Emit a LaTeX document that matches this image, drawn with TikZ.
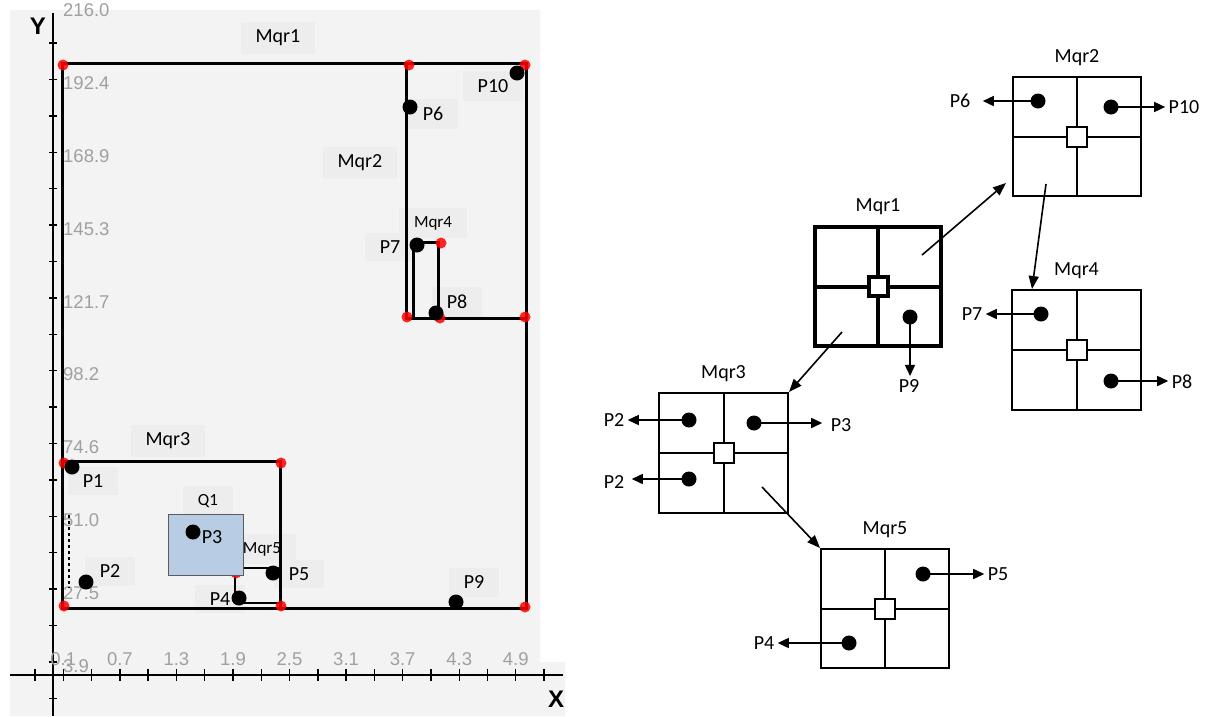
\documentclass[tikz,border=0pt]{standalone}
\usepackage{fontspec}
\setmainfont{Carlito}
\newfontfamily\tickfont{Liberation Sans}
\usetikzlibrary{arrows.meta, positioning, calc}

\definecolor{plotbg}{RGB}{243,243,243}
\definecolor{labelbg}{RGB}{237,237,237}
\definecolor{tickgray}{RGB}{160,160,160}
\definecolor{qfill}{RGB}{184,204,228}
\definecolor{qedge}{RGB}{90,90,90}

\tikzset{
  axis/.style={line width=1.4pt},
  ytick/.style={font=\tickfont\fontsize{18.5}{22}\selectfont, text=tickgray, inner sep=1pt},
  region/.style={line width=3pt},
  plabel/.style={fill=labelbg, inner xsep=15pt, inner ysep=8pt},
  small/.style={font=\fontsize{17}{20}\selectfont},
  redmark/.style={circle, fill=red, opacity=0.85, minimum size=11pt, inner sep=0pt},
  pt/.style={circle, fill=black, minimum size=15pt, inner sep=0pt},
  qbox/.style={draw, line width=#1, minimum width=128pt, minimum height=119pt,
    path picture={\draw[line width=#1] (path picture bounding box.north) -- (path picture bounding box.south)
      (path picture bounding box.west) -- (path picture bounding box.east);}},
  qbox/.default=2pt,
  hub/.style={draw, fill=white, line width=2pt, minimum size=20pt, inner sep=0pt},
  qname/.style={inner sep=3pt},
  ptarrow/.style={-{Triangle[length=11pt,width=10pt]}, line width=1.5pt},
  linkarrow/.style={-{Triangle[length=13pt,width=10pt]}, line width=1.6pt}
}

\begin{document}
\begin{tikzpicture}[x=1pt, y=-1pt, font=\fontsize{20}{24}\selectfont]
  \useasboundingbox (0,0) rectangle (1226,716);
  % Plot area
  \fill[plotbg] (10,10) -- (540,10) -- (540,662) -- (565,662) -- (565,716) -- (10,716) -- cycle;

  % Axes and ticks
  \draw[axis] (53,13) -- (53,716);
  \draw[axis] (10,675) -- (563,675);
  \foreach \k in {1,...,19}
    \draw[axis] (49,6.6+36.4*\k) -- (57,6.6+36.4*\k);
  \foreach \k in {0,...,18}
    \draw[axis] (35+28.28*\k,669) -- (35+28.28*\k,681);
  \foreach \lab [count=\i from 0] in {216.0,192.4,168.9,145.3,121.7,98.2,74.6,51.0,27.5,3.9}
    \node[ytick, anchor=west] (yl\i) at (62,10.6+72.8*\i) {\lab};
  \foreach \lab [count=\i from 0] in {0.1,0.7,1.3,1.9,2.5,3.1,3.7,4.3,4.9}
    \node[ytick] (xl\i) at (63.3+56.56*\i,659) {\lab};
  \node[font=\tickfont\bfseries\fontsize{24}{28}\selectfont] (ylab) at (38,26) {Y};
  \node[font=\tickfont\bfseries\fontsize{24}{28}\selectfont] (xlab) at (556,699) {X};

  % Region labels
  \node[plabel] (lm1) at (278,38) {Mqr1};
  \node[plabel] (lm2) at (360,163) {Mqr2};
  \node[plabel] (l10) at (493,86) {P10};
  \node[plabel] (l6) at (433,114) {P6};
  \node[plabel, small] (lm4) at (433,223) {Mqr4};
  \node[plabel] (l7) at (390,247) {P7};
  \node[plabel] (l8) at (457,302) {P8};
  \node[plabel] (lm3) at (168,441) {Mqr3};
  \node[plabel] (l1) at (93,481) {P1};
  \node[plabel] (l2) at (110,571) {P2};
  \node[plabel, small] (lq1) at (208,501) {Q1};
  \node[plabel, small] (lm5) at (262,549) {Mqr5};
  \node[plabel] (l5) at (299,574) {P5};
  \node[plabel] (l4) at (220,599) {P4};
  \node[plabel] (l9) at (474,582) {P9};

  % Regions
  \draw[region] (62,63) rectangle (526,608);
  \draw[region] (406,63) -- (406,318) -- (526,318);
  \draw[region] (413,318) -- (413,242) -- (438,242) -- (438,318);
  \draw[region] (62,461) -- (280,461) -- (280,608);
  \draw[region, line width=2.4pt] (280,603) -- (235,603) -- (235,568) -- (280,568);
  \draw[dashed, line width=1.5pt] (69,515) -- (69,588);
  \foreach \c [count=\i] in {(63,65),(409,65),(525,65),(407,317),(441,243),(440,318),(525,317),
      (64,463),(281,463),(64,606),(281,606),(525,607),(236,573)}
    \node[redmark] (rm\i) at \c {};

  % Query window
  \filldraw[fill=qfill, draw=qedge, line width=1pt] (168,514) rectangle (243,575);
  \node (l3) at (212,537) {P3};

  % Points
  \node[pt] (p1) at (72,467) {};
  \node[pt] (p2) at (86,582) {};
  \node[pt] (p3) at (193,532) {};
  \node[pt] (p4) at (239,598) {};
  \node[pt] (p5) at (273,573) {};
  \node[pt] (p6) at (410,107) {};
  \node[pt] (p7) at (417,245) {};
  \node[pt] (p8) at (436,313) {};
  \node[pt] (p9) at (456,602) {};
  \node[pt] (p10) at (517,73) {};

  % Tree of quadrant nodes
  \node[qbox=4pt, minimum width=126pt] (mqr1) at (878,286.5) {};
  \node[hub, line width=4pt, minimum size=19pt] (h1) at (mqr1) {};
  \node[qname, above=7pt of mqr1] (n1) {Mqr1};
  \node[qbox] (mqr2) at (1077,136.5) {};
  \node[hub] (h2) at (mqr2) {};
  \node[qname, above=7pt of mqr2] (n2) {Mqr2};
  \node[qbox, minimum width=129pt, minimum height=120pt] (mqr4) at (1076.5,350) {};
  \node[hub] (h4) at (mqr4) {};
  \node[qname, above=7pt of mqr4] (n4) {Mqr4};
  \node[qbox, minimum width=129pt, minimum height=120pt] (mqr3) at (723.5,453) {};
  \node[hub] (h3) at (mqr3) {};
  \node[qname, above=7pt of mqr3] (n3) {Mqr3};
  \node[qbox] (mqr5) at (885,608.5) {};
  \node[hub] (h5) at (mqr5) {};
  \node[qname, above=7pt of mqr5] (n5) {Mqr5};

  % Stored points
  \node[pt] (d9) at (910,317) {};
  \node (t9) at (909,386) {P9};
  \draw[ptarrow] (d9.center) -- (d9 |- t9.north);
  \node[pt] (d6) at (1038,101) {};
  \node (t6) at (960,101) {P6};
  \draw[ptarrow, shorten >=9pt] (d6.center) -- (d6 -| t6.east);
  \node[pt] (d10) at (1111,107) {};
  \node (t10) at (1184,107) {P10};
  \draw[ptarrow] (d10.center) -- (d10 -| t10.west);
  \node[pt] (d7) at (1041,314) {};
  \node (t7) at (972,314) {P7};
  \draw[ptarrow] (d7.center) -- (d7 -| t7.east);
  \node[pt] (d8) at (1111,381) {};
  \node (t8) at (1182,382) {P8};
  \draw[ptarrow] (d8.center) -- (d8 -| t8.west);
  \node[pt] (d2a) at (689,420) {};
  \node (t2a) at (614,420) {P2};
  \draw[ptarrow] (d2a.center) -- (d2a -| t2a.east);
  \node[pt] (d3) at (754,423) {};
  \node (t3) at (841,425) {P3};
  \draw[ptarrow, shorten >=5pt] (d3.center) -- (d3 -| t3.west);
  \node[pt] (d2b) at (689,479) {};
  \node (t2b) at (614,482) {P2};
  \draw[ptarrow, shorten >=4pt] (d2b.center) -- (d2b -| t2b.east);
  \node[pt] (d5) at (923,574) {};
  \node (t5) at (998,574) {P5};
  \draw[ptarrow] (d5.center) -- (d5 -| t5.west);
  \node[pt] (d4) at (849,643) {};
  \node (t4) at (764,643) {P4};
  \draw[ptarrow] (d4.center) -- (d4 -| t4.east);

  % Child links
  \coordinate (c12) at (922,255);
  \coordinate (e12) at (1006,183);
  \draw[linkarrow] (c12) -- (e12);
  \coordinate (c24) at (1046,184);
  \coordinate (e24) at (1032,289);
  \draw[linkarrow] (c24) -- (e24);
  \coordinate (c13) at (842,332);
  \draw[linkarrow] (c13) -- (mqr3.north east);
  \coordinate (c35) at (762,487);
  \draw[linkarrow] (c35) -- (mqr5.north west);
\end{tikzpicture}
\end{document}
